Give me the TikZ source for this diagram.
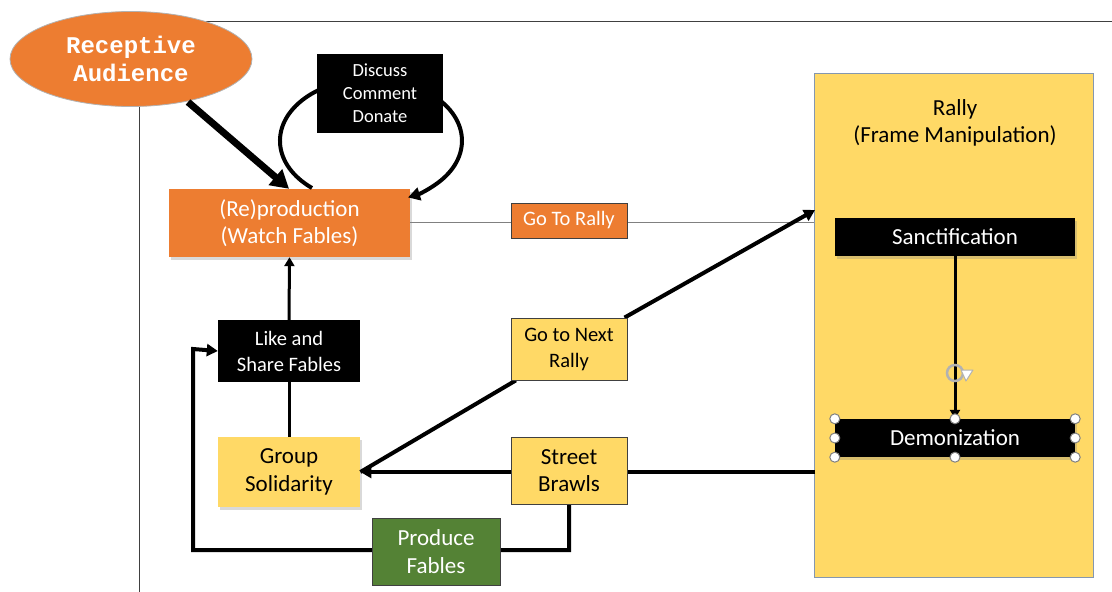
\documentclass[tikz,border=0pt]{standalone}
\usepackage{fontspec}
\setmainfont{Carlito}
\newfontfamily\monofam{Liberation Mono}
\usetikzlibrary{arrows.meta,shadows,shapes.geometric}
\definecolor{orng}{HTML}{ED7D31}
\definecolor{ylw}{HTML}{FFD966}
\definecolor{grn}{HTML}{548235}
\definecolor{rallyedge}{HTML}{8497B0}
\definecolor{edgegray}{HTML}{404040}
\begin{document}
\begin{tikzpicture}[x=1pt,y=-1pt,
  box/.style={rectangle, inner sep=0pt, align=center, font=\fontsize{23}{27.5}\selectfont},
  midfont/.style={font=\fontsize{20.5}{26}\selectfont},
  smallfont/.style={font=\fontsize{18.5}{23}\selectfont},
  orangebox/.style={box, fill=orng, text=white},
  blackbox/.style={box, fill=black, text=white},
  yellowbox/.style={box, fill=ylw, text=black, draw=edgegray, line width=0.8pt},
  greenbox/.style={box, fill=grn, text=white, draw=edgegray, line width=0.8pt},
  shade/.style={drop shadow={opacity=0.3, shadow xshift=2pt, shadow yshift=-3pt}},
  flow/.style={line width=4pt, -{Triangle[length=11pt,width=12pt]}},
  thinflow/.style={line width=3pt, -{Triangle[length=9pt,width=10pt]}},
  handle/.style={circle, draw=gray, fill=white, line width=1pt, minimum size=10pt, inner sep=0pt}
]
\useasboundingbox (0,0) rectangle (1112,592);
% frame
\draw[line width=0.8pt, edgegray] (139,592) -- (139,21) -- (1112,21);

% rally container
\node[box, fill=ylw, draw=rallyedge, line width=1pt, minimum width=279pt, minimum height=504pt] (rally) at (953.5,325) {};
\node[box, anchor=north] (rallytitle) at (955,99) {Rally\\(Frame Manipulation)};

% nodes
\node[orangebox, draw=edgegray, line width=0.8pt, midfont, minimum width=116pt, minimum height=35pt] (gotorally) at (569,220.5) {Go To Rally};
\node[orangebox, shade, minimum width=241pt, minimum height=68pt] (repro) at (289.5,223) {(Re)production\\(Watch Fables)};
\node[blackbox, midfont, minimum width=142pt, minimum height=62pt] (like) at (289,351) {Like and\\Share Fables};
\node[yellowbox, draw=none, shade, minimum width=142pt, minimum height=70pt] (gs) at (289,472) {Group\\Solidarity};
\node[yellowbox, midfont, minimum width=116pt, minimum height=62pt] (gonext) at (569,349) {Go to Next\\Rally};
\node[yellowbox, minimum width=116pt, minimum height=67pt] (street) at (569,470.5) {Street\\Brawls};
\node[greenbox, minimum width=128pt, minimum height=67pt] (produce) at (436,551.5) {Produce\\Fables};
\node[blackbox, shade, minimum width=240pt, minimum height=38pt] (sanct) at (955,237) {Sanctification};
\node[blackbox, shade, minimum width=240pt, minimum height=38pt] (demon) at (955,438) {Demonization};

\coordinate (rallyin) at (815,210);
\coordinate (rallyout) at (815,472);
\coordinate (c1) at (569,550);
\coordinate (c2) at (193,550);
\coordinate (c3) at (193,349);

% connectors
\draw[line width=0.8pt, gray] (repro.east |- 0,222) -- (gotorally.west |- 0,222);
\draw[line width=0.8pt, gray] (gotorally.east |- 0,222) -- (rally.west |- 0,222);
\draw[flow] (gs.east) -- (gonext) -- (rallyin);
\draw[flow] (rallyout) -- (gs.east);
\draw[flow] (street.south) -- (c1) -- (c2) -- (c3) -- (like.west);
\draw[thinflow] (like.north) -- (repro.south);
\draw[line width=3pt] (gs.north) -- (like.south);
\draw[thinflow] (sanct.south) -- (demon.north);

% redraw boxes over connectors
\node[orangebox, draw=edgegray, line width=0.8pt, midfont, minimum width=116pt, minimum height=35pt] at (569,220.5) {Go To Rally};
\node[yellowbox, midfont, minimum width=116pt, minimum height=62pt] at (569,349) {Go to Next\\Rally};
\node[yellowbox, minimum width=116pt, minimum height=67pt] at (569,470.5) {Street\\Brawls};
\node[greenbox, minimum width=128pt, minimum height=67pt] at (436,551.5) {Produce\\Fables};
\node[blackbox, minimum width=240pt, minimum height=38pt] at (955,438) {Demonization};

% loop
\coordinate (loopstart) at (312,188);
\draw[line width=4pt, -{Triangle[length=12pt,width=13pt]}] (loopstart) arc[start angle=130.4, end angle=426, x radius=91, y radius=62];
\node[blackbox, smallfont, minimum width=126pt, minimum height=79pt] (discuss) at (380,93.5) {Discuss\\Comment\\Donate};

% receptive audience
\node[ellipse, fill=orng, draw=gray!60, line width=0.8pt, minimum width=242pt, minimum height=95pt, inner sep=0pt, align=center, text=white, font=\monofam\bfseries\fontsize{24}{28}\selectfont] (aud) at (131,59) {Receptive\\Audience};
\draw[line width=7pt, -{Triangle[length=18pt,width=20pt]}] (188,102) -- (repro.north -| 289,0);

% rotation icon
\node[circle, draw=gray!60, line width=2.5pt, minimum size=16pt, inner sep=0pt] (rot) at (955,373) {};
\draw[gray!60, fill=white, line width=1pt, line join=round] (961,370) -- (973,370) -- (966,381) -- cycle;

% handles
\foreach \p/\n in {north west/a, north/b, north east/c, west/d, east/e, south west/f, south/g, south east/h}
  \node[handle] (h\n) at (demon.\p) {};
\end{tikzpicture}
\end{document}
